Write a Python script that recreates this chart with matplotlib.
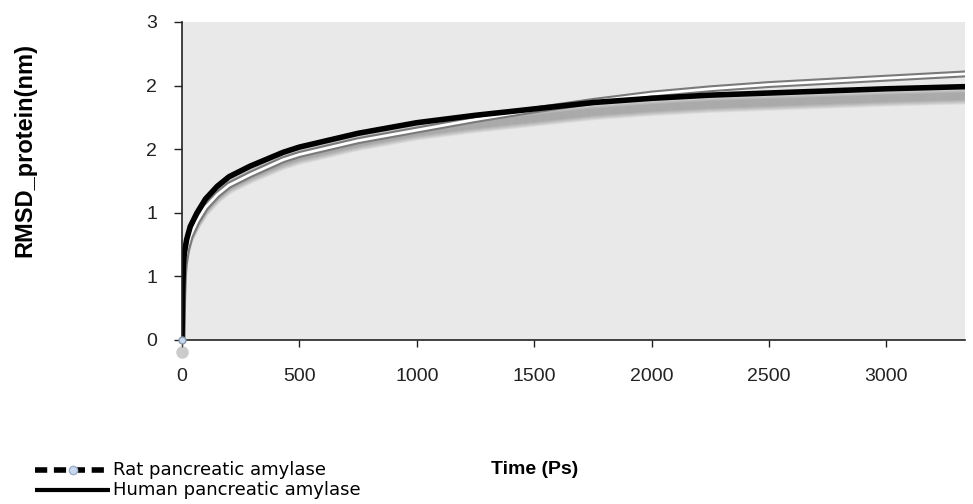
import matplotlib
matplotlib.use("Agg")
import matplotlib.pyplot as plt
import matplotlib.transforms as mtransforms
from matplotlib.lines import Line2D
import numpy as np

plt.rcParams['font.family'] = ['Liberation Sans', 'DejaVu Sans']

# time (Ps) and RMSD (nm)
time_human = [0, 3, 6, 10, 20, 35, 64, 100, 150, 200, 290, 430, 500, 750,
              1000, 1250, 1500, 1750, 2000, 2250, 2500, 2750, 3000, 3335]
rmsd_human = [0.0, 0.45, 0.7, 0.82, 0.95, 1.07, 1.2, 1.33, 1.45, 1.54, 1.64,
              1.77, 1.82, 1.95, 2.05, 2.12, 2.18, 2.24, 2.28, 2.31, 2.33,
              2.35, 2.37, 2.39]

time_rat = [0, 3, 6, 10, 20, 35, 64, 100, 150, 200, 290, 430, 500, 750,
            1000, 1250, 1500, 1750, 2000, 2250, 2500, 2750, 3000, 3335]
rmsd_rat = [0.0, 0.4, 0.6, 0.72, 0.86, 0.98, 1.12, 1.25, 1.37, 1.46, 1.56,
            1.7, 1.75, 1.88, 1.98, 2.08, 2.17, 2.25, 2.32, 2.37, 2.41,
            2.44, 2.47, 2.51]

xticks = [0, 500, 1000, 1500, 2000, 2500, 3000]
yticks = [0, 0.6, 1.2, 1.8, 2.4, 3.0]
ytick_labels = ['0', '1', '1', '2', '2', '3']
series_names = ['Rat pancreatic amylase', 'Human pancreatic amylase']

W, H = 973, 504
fig = plt.figure(figsize=(W / 100, H / 100), dpi=100)
ax = fig.add_axes([182 / W, 1 - 340 / H, (965 - 182) / W, (340 - 22) / H])
ax.set_facecolor('#e9e9e9')

# soft shadow under the human curve
for k in range(4, 16):
    tr = mtransforms.offset_copy(ax.transData, fig=fig, x=0, y=-k, units='dots')
    ax.plot(time_human, rmsd_human, color='#444444', lw=4, alpha=0.08,
            transform=tr, solid_capstyle='butt')

# rat: grey outlined white line
ax.plot(time_rat, rmsd_rat, color='#7a7a7a', lw=5, solid_joinstyle='round')
ax.plot(time_rat, rmsd_rat, color='white', lw=2, solid_joinstyle='round')
# human: thick black
ax.plot(time_human, rmsd_human, color='black', lw=4, solid_joinstyle='round')

# marker shadow at the origin
tr = mtransforms.offset_copy(ax.transData, fig=fig, x=0, y=-12, units='dots')
ax.plot(time_rat[:1], rmsd_rat[:1], 'o', ms=9, color='#999999', alpha=0.5,
        mec='none', transform=tr, clip_on=False)
ax.plot(time_rat[:1], rmsd_rat[:1], 'o', ms=5, color='#c8d8f0', mec='#8899aa',
        clip_on=False, zorder=5)

ax.set_xlim(0, 3335)
ax.set_ylim(0, 3)
ax.set_xticks(xticks)
ax.set_xticklabels([str(v) for v in xticks])
ax.set_yticks(yticks)
ax.set_yticklabels(ytick_labels)
ax.tick_params(axis='x', length=5, width=1, pad=15, labelsize=14, colors='#222222')
ax.tick_params(axis='y', length=6, width=1, pad=12, labelsize=14, colors='#222222')
for s in ['top', 'right']:
    ax.spines[s].set_visible(False)
for s in ['left', 'bottom']:
    ax.spines[s].set_color('#222222')
    ax.spines[s].set_linewidth(1.2)

fig.text(25 / W, 1 - 150 / H, 'RMSD_protein(nm)', rotation=90,
         ha='center', va='center', fontsize=17, fontweight='bold')
fig.text(535 / W, 1 - 470 / H, 'Time (Ps)', ha='center', va='center',
         fontsize=14, fontweight='bold')

# legend drawn by hand (tight rows like the original)
rows_y = [470, 490]
x0, x1 = 35 / W, 110 / W
y = 1 - rows_y[0] / H
fig.add_artist(Line2D([x0, x1], [y, y], transform=fig.transFigure, color='black',
                      lw=4, ls=(0, (2.2, 1.2))))
fig.add_artist(Line2D([(x0 + x1) / 2], [y], transform=fig.transFigure, marker='o',
                      markersize=6, markerfacecolor='#c8d8f0',
                      markeredgecolor='#a0b0c8', lw=0))
y = 1 - rows_y[1] / H
fig.add_artist(Line2D([x0, x1], [y, y], transform=fig.transFigure, color='black',
                      lw=3, solid_capstyle='butt'))
for name, ry in zip(series_names, rows_y):
    fig.text(113 / W, 1 - ry / H, name, ha='left', va='center', fontsize=13,
             family=['DejaVu Sans'])

fig.savefig('out.png', dpi=100)
